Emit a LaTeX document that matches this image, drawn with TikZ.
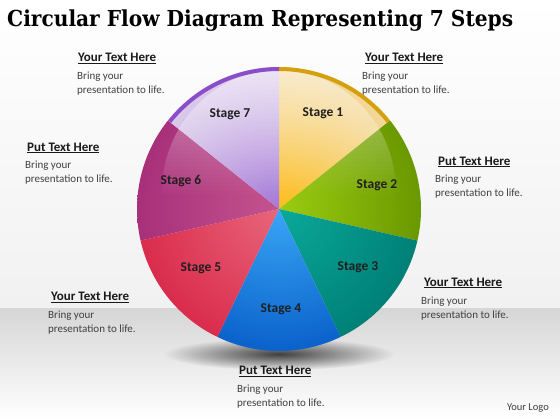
\documentclass[tikz,border=0pt]{standalone}
\usepackage{fontspec}
\setmainfont{Carlito}
\newfontfamily\titlefont{DejaVu Serif}
\usetikzlibrary{fadings}
\tikzfading[name=shadowfade, inner color=transparent!0, outer color=transparent!100]
\definecolor{bgA}{HTML}{F1F1F1}
\definecolor{bgB}{HTML}{D6D6D6}
\definecolor{sAin}{HTML}{FDBE1E}
\definecolor{sAout}{HTML}{F2D89E}
\definecolor{sArim}{HTML}{D4A00E}
\definecolor{sBin}{HTML}{9CCC10}
\definecolor{sBout}{HTML}{6A9800}
\definecolor{sCin}{HTML}{0AA99A}
\definecolor{sCout}{HTML}{008077}
\definecolor{sDin}{HTML}{3AA6F6}
\definecolor{sDout}{HTML}{0A62CA}
\definecolor{sEin}{HTML}{E8667A}
\definecolor{sEout}{HTML}{DA2C4C}
\definecolor{sFin}{HTML}{C4548E}
\definecolor{sFout}{HTML}{A8307A}
\definecolor{sGin}{HTML}{A57AD8}
\definecolor{sGout}{HTML}{DCCBEA}
\definecolor{sGrim}{HTML}{8A4ECA}
\definecolor{bodygray}{HTML}{404040}
\tikzset{
  heading/.style={anchor=base west, inner sep=0pt, font=\fontsize{13}{15}\selectfont\bfseries, text=black!90},
  bodyline/.style={anchor=base west, inner sep=0pt, font=\fontsize{11}{13}\selectfont, text=bodygray},
  stagelbl/.style={inner sep=0pt, font=\fontsize{13.5}{15}\selectfont\bfseries, text=black!88},
}
\newcommand{\hd}[1]{\underline{#1}}
\begin{document}
\begin{tikzpicture}[x=1pt,y=-1pt]
\useasboundingbox (0,0) rectangle (560,420);
% background
\shade[top color=white, bottom color=bgA] (0,0) rectangle (560,308);
\shade[top color=bgB, bottom color=white] (0,308) rectangle (560,420);
% title
\node[anchor=base west, inner sep=0pt] (title) at (7,26.7)
  {\resizebox{506pt}{\height}{\titlefont\bfseries\fontsize{22}{24}\selectfont Circular Flow Diagram Representing 7 Steps}};
% shadow
\fill[black!75, path fading=shadowfade] (279,354) ellipse[x radius=115, y radius=16];
% pie
\coordinate (C) at (279,209);
\def\R{142}
\foreach \k/\ci/\co in {1/sAin/sAout,2/sBin/sBout,3/sCin/sCout,4/sDin/sDout,5/sEin/sEout,6/sFin/sFout,7/sGin/sGout}{
  \begin{scope}
    \clip (C) -- ++({-90+(\k-1)*360/7}:\R) arc[start angle={-90+(\k-1)*360/7}, end angle={-90+\k*360/7}, radius=\R] -- cycle;
    \shade[inner color=\ci, outer color=\co] (C) circle[radius=\R];
  \end{scope}
}
% gloss (stepped strips, strong at top, gone at the centre)
\begin{scope}
  \clip (C) circle[radius=\R];
  \clip (279,192) ellipse[x radius=117, y radius=122];
  \foreach \i in {0,...,31}{
    \fill[white, opacity={0.5*(1-\i/32)}] (130,{66+\i*4}) rectangle (430,{70.4+\i*4});
  }
\end{scope}
% rims
\draw[sArim, line width=4pt] (C) ++(-90:\R-2) arc[start angle=-90, end angle={-90+360/7}, radius=\R-2];
\draw[sGrim, line width=4pt] (C) ++({-90-360/7}:\R-2) arc[start angle={-90-360/7}, end angle=-90, radius=\R-2];
% stage labels
\node[stagelbl] (st1) at (323,113) {Stage 1};
\node[stagelbl] (st2) at (377,185) {Stage 2};
\node[stagelbl] (st3) at (358,267) {Stage 3};
\node[stagelbl] (st4) at (281,309) {Stage 4};
\node[stagelbl] (st5) at (201,268) {Stage 5};
\node[stagelbl] (st6) at (181,181) {Stage 6};
\node[stagelbl] (st7) at (230,114) {Stage 7};
% text blocks
\node[heading] (h1) at (78,62) {\hd{Your\ Text Here}};
\node[bodyline] (b1a) at (77,80) {Bring your};
\node[bodyline] (b1b) at (77,94) {presentation to life.};
\node[heading] (h2) at (365,61.3) {\hd{Your\ Text Here}};
\node[bodyline] (b2a) at (362,80) {Bring your};
\node[bodyline] (b2b) at (362,94) {presentation to life.};
\node[heading] (h3) at (27,151) {\hd{Put Text Here}};
\node[bodyline] (b3a) at (25,168) {Bring your};
\node[bodyline] (b3b) at (25,182) {presentation to life.};
\node[heading] (h4) at (438,165) {\hd{Put Text Here}};
\node[bodyline] (b4a) at (435,182.5) {Bring your};
\node[bodyline] (b4b) at (435,196.5) {presentation to life.};
\node[heading] (h5) at (51,300.7) {\hd{Your\ Text Here}};
\node[bodyline] (b5a) at (48,318.5) {Bring your};
\node[bodyline] (b5b) at (48,332.5) {presentation to life.};
\node[heading] (h6) at (424,286) {\hd{Your\ Text Here}};
\node[bodyline] (b6a) at (421,304) {Bring your};
\node[bodyline] (b6b) at (421,318) {presentation to life.};
\node[heading] (h7) at (239,374.7) {\hd{Put Text Here}};
\node[bodyline] (b7a) at (237,392.7) {Bring your};
\node[bodyline] (b7b) at (237,406.7) {presentation to life.};
\node[anchor=base east, inner sep=0pt, font=\fontsize{10.5}{12}\selectfont, text=bodygray] (logo) at (549,410) {Your Logo};
\end{tikzpicture}
\end{document}
